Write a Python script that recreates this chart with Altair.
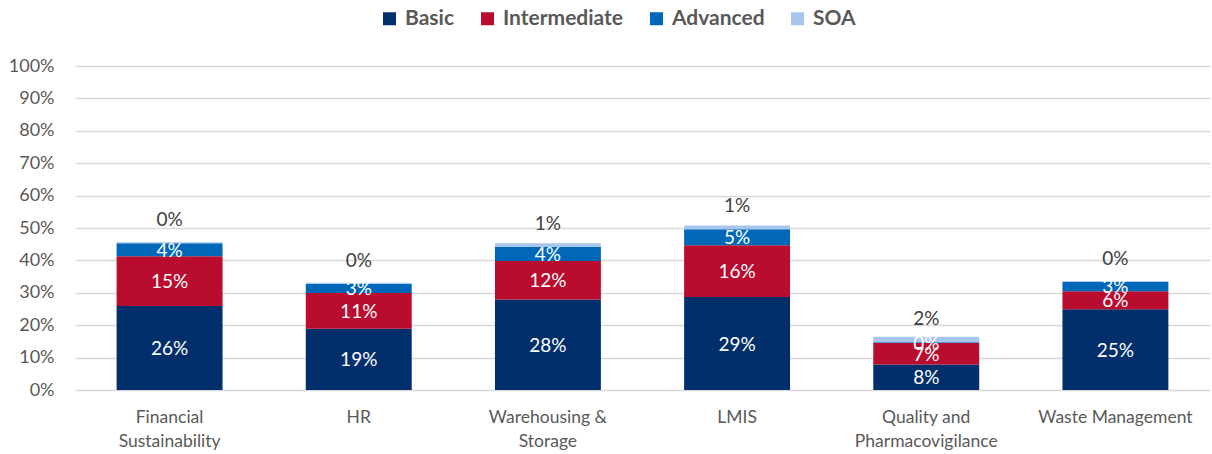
import altair as alt
import pandas as pd

categories = ["Financial Sustainability", "HR", "Warehousing & Storage", "LMIS",
              "Quality and Pharmacovigilance", "Waste Management"]
label_lines = [["Financial", "Sustainability"], ["HR"], ["Warehousing &", "Storage"], ["LMIS"],
               ["Quality and", "Pharmacovigilance"], ["Waste Management"]]
series = ["Basic", "Intermediate", "Advanced", "SOA"]
basic = [25.9, 18.9, 27.9, 28.7, 7.9, 24.9]
intermediate = [15.4, 11.0, 11.9, 16.0, 6.6, 5.6]
advanced = [4.0, 2.9, 4.3, 4.9, 0.2, 2.9]
soa = [0.3, 0.3, 1.2, 1.2, 1.7, 0.2]
colors = ["#002F6C", "#BA0C2F", "#0067B9", "#A7C6ED"]
y_ticks = [0, 0.1, 0.2, 0.3, 0.4, 0.5, 0.6, 0.7, 0.8, 0.9, 1.0]

rows = []
for i, c in enumerate(categories):
    for j, (s, vals) in enumerate(zip(series, [basic, intermediate, advanced, soa])):
        rows.append({"category": c, "series": s, "order": j, "value": vals[i] / 100})
df = pd.DataFrame(rows)

# build label expression for multi-line x labels
expr = "datum.label"
for c, lines in zip(categories, label_lines):
    arr = "[" + ",".join("'" + l + "'" for l in lines) + "]"
    expr = f"datum.label == '{c}' ? {arr} : ({expr})"

FONT = "Lato"
GRAY = "#595959"

base = alt.Chart(df).transform_stack(
    stack="value", groupby=["category"], as_=["y0", "y1"],
    sort=[alt.SortField("order", order="ascending")]
).transform_calculate(mid="(datum.y0 + datum.y1) / 2")

x_axis = alt.Axis(title=None, labelAngle=0, labelExpr=expr, labelFont=FONT,
                  labelFontSize=17.5, labelColor=GRAY, labelLineHeight=24,
                  labelPadding=18, domain=False, ticks=False, grid=False)
y_axis = alt.Axis(title=None, values=y_ticks, format=".0%", labelFont=FONT,
                  labelFontSize=18, labelColor=GRAY, labelPadding=21,
                  domain=False, ticks=False, grid=True, gridColor="#D9D9D9",
                  gridWidth=1.3)
x_scale = alt.Scale(paddingInner=0.44, paddingOuter=0.22)
y_scale = alt.Scale(domain=[0, 1])


def xenc():
    return alt.X("category:N", sort=categories, scale=x_scale, axis=x_axis)


def yenc(field):
    return alt.Y(field, scale=y_scale, axis=y_axis)


bars = base.mark_bar().encode(
    x=xenc(),
    y=yenc("y0:Q"),
    y2="y1:Q",
    color=alt.Color("series:N", sort=series,
                    scale=alt.Scale(domain=series, range=colors),
                    legend=alt.Legend(title=None, orient="none", legendX=304, legendY=-58,
                                      direction="horizontal", columns=4, symbolType="square",
                                      symbolSize=169, symbolStrokeWidth=0, labelFont=FONT,
                                      labelFontWeight="bold", labelFontSize=21,
                                      labelColor=GRAY, columnPadding=22, labelOffset=5,
                                      padding=0)),
    order=alt.Order("order:Q"),
)

inner = base.transform_filter("datum.series != 'SOA'").mark_text(
    color="white", font=FONT, fontSize=19, baseline="middle", dy=1
).encode(
    x=xenc(),
    y=yenc("mid:Q"),
    text=alt.Text("value:Q", format=".0%"),
)

top = base.transform_filter("datum.series == 'SOA'").mark_text(
    color="#404040", font=FONT, fontSize=19, baseline="middle", dy=-23
).encode(
    x=xenc(),
    y=yenc("y0:Q"),
    text=alt.Text("value:Q", format=".0%"),
)

chart = alt.layer(bars, inner, top).properties(
    width=1135, height=324,
    padding={"left": 75, "top": 66, "right": 2, "bottom": 64},
    autosize=alt.AutoSizeParams(type="none"),
).configure_view(stroke=None)

chart.save("out.html", embed_options={"renderer": "svg", "actions": False})
